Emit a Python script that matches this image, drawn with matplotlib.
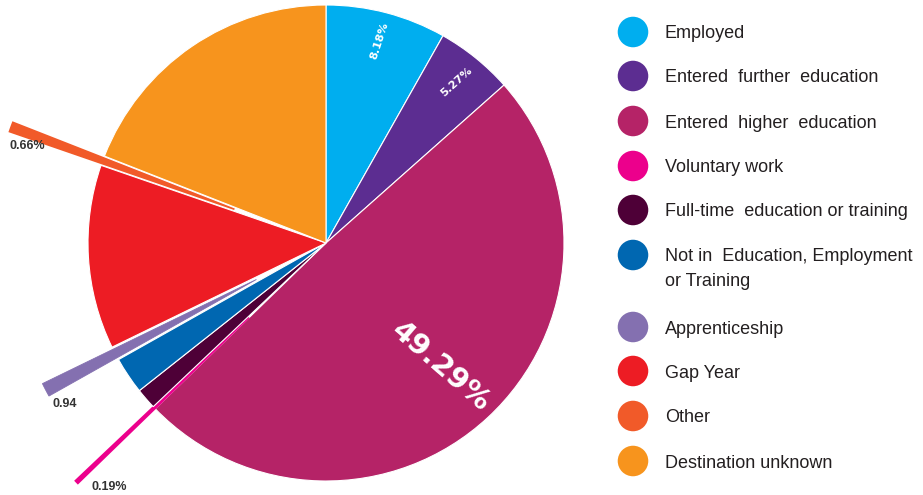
import numpy as np
import matplotlib
matplotlib.use("Agg")
import matplotlib.pyplot as plt

categories = ["Employed", "Entered further education", "Entered higher education",
              "Voluntary work", "Full-time education or training",
              "Not in Education, Employment\nor Training", "Apprenticeship",
              "Gap Year", "Other", "Destination unknown"]
legend_labels = ["Employed", "Entered  further  education", "Entered  higher  education",
                 "Voluntary work", "Full-time  education or training",
                 "Not in  Education, Employment\nor Training", "Apprenticeship",
                 "Gap Year", "Other", "Destination unknown"]
values = [8.18, 5.27, 49.29, 0.19, 1.42, 2.5, 0.94, 12.5, 0.66, 19.05]
colors = ["#00AEEF", "#5C2D91", "#B52367", "#EC008C", "#4E0037",
          "#0067B1", "#8470B0", "#ED1C24", "#F15A29", "#F7941D"]
explode = [0, 0, 0, 0.45, 0, 0, 0.33, 0, 0.41, 0]

inside_labels = {0: "8.18%", 1: "5.27%", 2: "49.29%"}
outside_labels = {8: "0.66%", 6: "0.94", 3: "0.19%"}

W, H = 923, 495
fig = plt.figure(figsize=(W / 100, H / 100), dpi=100)
cx, cy, R = 326, 243, 238
ax = fig.add_axes([(cx - R) / W, (H - cy - R) / H, 2 * R / W, 2 * R / H])
wedges, _ = ax.pie(values, colors=colors, startangle=90, counterclock=False,
                   explode=explode, radius=1,
                   wedgeprops=dict(edgecolor="white", linewidth=0.8, clip_on=False))
# thicken the thin exploded slivers slightly
for i, lw in [(3, 1.8), (8, 1.2), (6, 0.6)]:
    wedges[i].set_edgecolor(colors[i])
    wedges[i].set_linewidth(lw)
ax.set_xlim(-1, 1)
ax.set_ylim(-1, 1)
ax.set_aspect("equal")
ax.axis("off")

# inside labels
inside_style = {0: (0.88, 72, 8), 1: (0.87, 42, 8), 2: (0.71, -41, 21)}
for i, txt in inside_labels.items():
    w = wedges[i]
    ang = np.deg2rad((w.theta1 + w.theta2) / 2)
    r, rot, fs = inside_style[i]
    ax.text(r * np.cos(ang), r * np.sin(ang), txt, color="white", fontsize=fs,
            fontweight="bold", rotation=rot, ha="center", va="center",
            family="DejaVu Sans")

# outside labels
outside_style = {8: (1.32, 2.3), 6: (1.29, 3.9), 3: (1.37, 4.6)}
for i, txt in outside_labels.items():
    w = wedges[i]
    ang = np.deg2rad((w.theta1 + w.theta2) / 2 + outside_style[i][1])
    r = outside_style[i][0]
    ax.text(r * np.cos(ang), r * np.sin(ang), txt, color="#333333", fontsize=9,
            fontweight="bold", ha="center", va="center", clip_on=False,
            family="Liberation Sans")

# legend
lax = fig.add_axes([0, 0, 1, 1])
lax.set_xlim(0, W)
lax.set_ylim(H, 0)
lax.axis("off")
ys = [32, 76, 121, 166, 210, 255, 327, 371, 416, 461]
for lab, col, y in zip(legend_labels, colors, ys):
    lax.scatter([633], [y], s=22 ** 2, color=col, edgecolors="none")
    multi = "\n" in lab
    lax.text(665, y - 7 if multi else y + 2, lab, fontsize=13,
             va="top" if multi else "center",
             ha="left", color="#231F20", family="Liberation Sans",
             linespacing=1.65)

fig.savefig("out.png", dpi=100)
